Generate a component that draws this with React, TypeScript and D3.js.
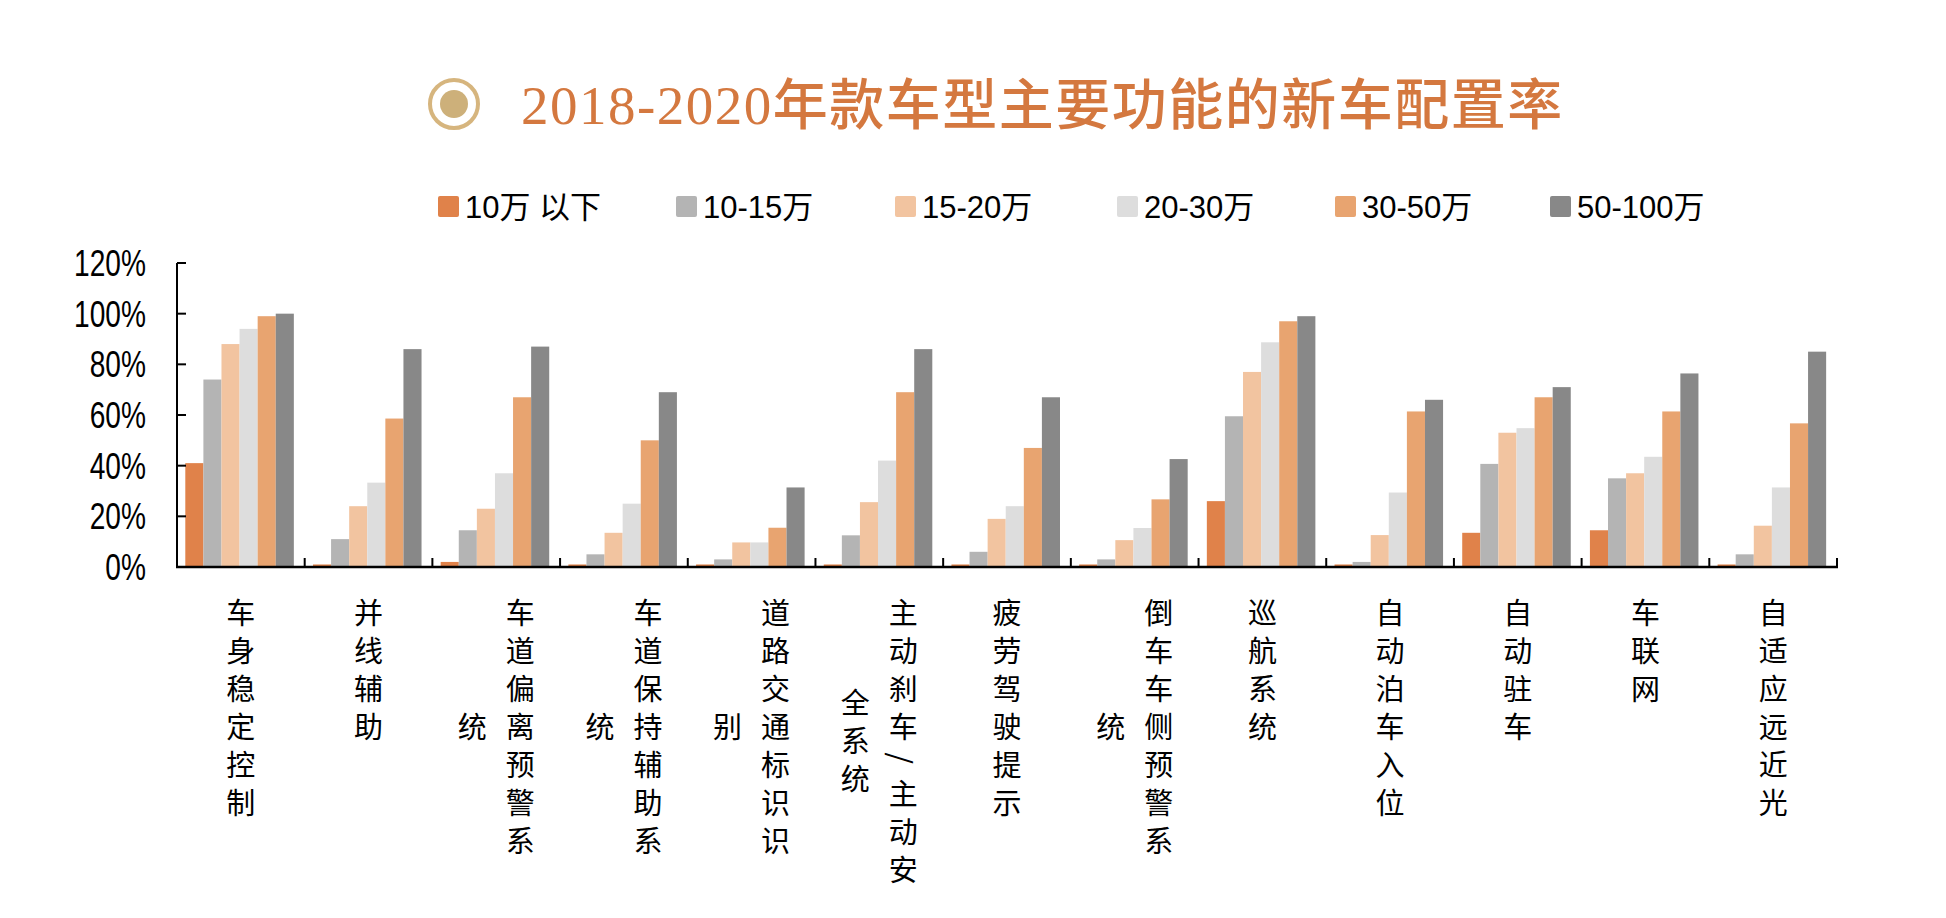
import React from 'react';
import * as d3 from 'd3';

// categories and series
const categories = [
  '车身稳定控制',
  '并线辅助',
  '车道偏离预警系统',
  '车道保持辅助系统',
  '道路交通标识识别',
  '主动刹车/主动安全系统',
  '疲劳驾驶提示',
  '倒车车侧预警系统',
  '巡航系统',
  '自动泊车入位',
  '自动驻车',
  '车联网',
  '自适应远近光',
];

const seriesNames = ['10万 以下', '10-15万', '15-20万', '20-30万', '30-50万', '50-100万'];
const seriesColors = ['#E0824A', '#B4B4B4', '#F2C4A0', '#DDDDDD', '#E8A470', '#888888'];

// values in %
const under10 = [41, 1, 2, 1, 1, 1, 1, 1, 26, 1, 13.5, 14.5, 1];
const from10to15 = [74, 11, 14.5, 5, 3, 12.5, 6, 3, 59.5, 2, 40.7, 35, 5];
const from15to20 = [88, 24, 23, 13.5, 9.7, 25.6, 19, 10.6, 77, 12.6, 53, 37, 16.3];
const from20to30 = [94, 33.3, 37, 25, 9.7, 42, 24, 15.4, 88.7, 29.4, 54.8, 43.5, 31.4];
const from30to50 = [99, 58.6, 67, 50, 15.5, 69, 47, 26.7, 97, 61.4, 67, 61.4, 56.7];
const from50to100 = [100, 86, 87, 69, 31.4, 86, 67, 42.6, 99, 66, 71, 76.4, 85];

const seriesValues = [under10, from10to15, from15to20, from20to30, from30to50, from50to100];
const yTicks = [0, 20, 40, 60, 80, 100, 120];

const W = 1946;
const H = 918;
const CJK = '"Noto Sans CJK SC", sans-serif';

// split a label into vertical columns (slash counts as a short glyph)
function wrapLabel(label: string, maxUnits: number): string[] {
  const cols: string[] = [];
  let cur = '';
  let units = 0;
  for (const ch of label) {
    const u = ch === '/' ? 0.6 : 1;
    if (units + u > maxUnits && cur) {
      cols.push(cur);
      cur = '';
      units = 0;
    }
    cur += ch;
    units += u;
  }
  if (cur) cols.push(cur);
  return cols;
}

const pitch = 38;
const unitOf = (ch: string) => (ch === '/' ? 0.75 : 1);

const App: React.FC = () => {
  const x = d3.scaleBand<string>().domain(categories).range([177, 1837]).padding(0);
  const bw = x.bandwidth();
  const inner = d3
    .scaleBand<string>()
    .domain(seriesNames)
    .range([bw * 0.065, bw * 0.915]);
  const y = d3.scaleLinear().domain([0, 120]).range([567, 263]);
  const fmt = (v: number) => `${v}%`;

  const legendX = [438, 676, 895, 1117, 1335, 1550];

  return (
    <svg
      width={W}
      height={H}
      style={{ position: 'absolute', left: 0, top: 0, background: '#fff' }}
    >
      {/* title */}
      <circle cx={454} cy={104} r={24} fill="none" stroke="#D6B57E" strokeWidth={4} />
      <circle cx={454} cy={104} r={14} fill="#CDB07A" />
      <text
        x={521}
        y={124}
        fontSize={55}
        fontWeight={500}
        letterSpacing={1.5}
        fill="#D4783F"
        style={{ fontFamily: '"Liberation Serif", "Noto Sans CJK SC", serif' }}
      >
        2018-2020年款车型主要功能的新车配置率
      </text>

      {/* legend */}
      {seriesNames.map((s, i) => (
        <g key={s} transform={`translate(${legendX[i]},207)`}>
          <rect x={0} y={-11} width={21} height={21} rx={2} fill={seriesColors[i]} />
          <text
            x={27}
            y={0}
            dominantBaseline="central"
            fontSize={31}
            fill="#000"
            style={{ fontFamily: '"Liberation Sans", "Noto Sans CJK SC", sans-serif' }}
          >
            {s}
          </text>
        </g>
      ))}

      {/* bars */}
      {categories.map((c, ci) => (
        <g key={c} transform={`translate(${x(c)},0)`}>
          {seriesNames.map((s, si) => {
            const v = seriesValues[si][ci];
            return (
              <rect
                key={s}
                x={inner(s)}
                y={y(v)}
                width={inner.bandwidth()}
                height={y(0) - y(v)}
                fill={seriesColors[si]}
              />
            );
          })}
        </g>
      ))}

      {/* y axis */}
      <line x1={177} x2={177} y1={y(120)} y2={y(0)} stroke="#000" strokeWidth={2} />
      {yTicks.map((t) => (
        <g key={t}>
          <line x1={177} x2={186} y1={y(t)} y2={y(t)} stroke="#000" strokeWidth={2} />
          <text
            transform={`translate(146,${y(t)}) scale(0.76,1)`}
            textAnchor="end"
            dominantBaseline="central"
            fontSize={37}
            fill="#000"
            style={{ fontFamily: '"Liberation Sans", sans-serif' }}
          >
            {fmt(t)}
          </text>
        </g>
      ))}

      {/* x axis */}
      <line x1={176} x2={1838} y1={y(0)} y2={y(0)} stroke="#000" strokeWidth={2.5} />
      {categories.map((c, i) =>
        i === 0 ? null : (
          <line key={c} x1={x(c)} x2={x(c)} y1={y(0)} y2={y(0) - 9} stroke="#000" strokeWidth={2} />
        ),
      )}
      <line x1={1837} x2={1837} y1={y(0)} y2={y(0) - 9} stroke="#000" strokeWidth={2} />

      {/* category labels, vertical */}
      {categories.map((c) => {
        const cols = wrapLabel(c, 7.7);
        const cx = (x(c) ?? 0) + bw / 2;
        const firstY = 611;
        const colHeights = cols.map((col) =>
          Array.from(col).reduce((a, ch) => a + unitOf(ch), 0),
        );
        const mainMid = firstY - pitch / 2 + (colHeights[0] * pitch) / 2;
        return (
          <g key={c}>
            {cols.map((col, k) => {
              const colX = cols.length === 1 ? cx : cx + 24 - k * 48;
              let cursor = mainMid - (colHeights[k] * pitch) / 2;
              return Array.from(col).map((ch, j) => {
                const u = unitOf(ch);
                const cy = cursor + (u * pitch) / 2;
                cursor += u * pitch;
                return (
                  <text
                    key={`${k}-${j}`}
                    x={colX}
                    y={cy}
                    textAnchor="middle"
                    dominantBaseline="central"
                    fontSize={29}
                    fill="#000"
                    transform={ch === '/' ? `rotate(90 ${colX} ${cy})` : undefined}
                    style={{ fontFamily: CJK }}
                  >
                    {ch}
                  </text>
                );
              });
            })}
          </g>
        );
      })}
    </svg>
  );
};

export default App;
